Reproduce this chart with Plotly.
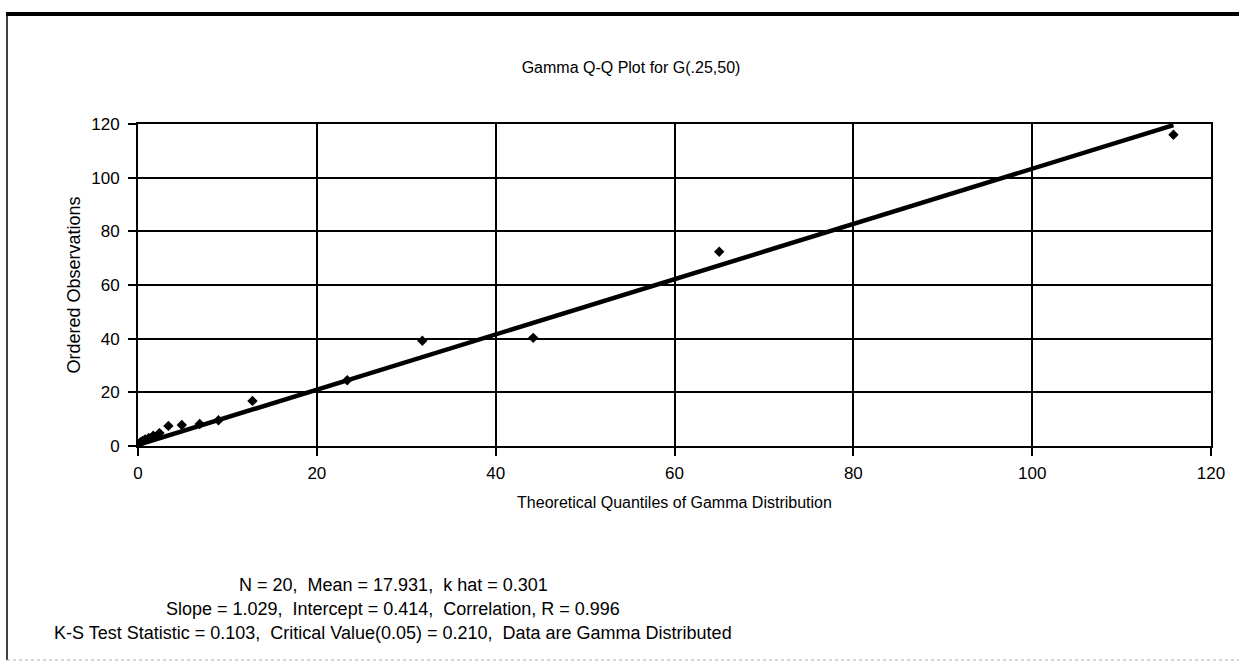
import plotly.graph_objects as go

# Data
theoretical_quantiles = [0.0, 0.01, 0.05, 0.15, 0.3, 0.5, 0.8, 1.2, 1.7, 2.4,
                         3.4, 4.9, 6.9, 9.0, 12.8, 23.4, 31.8, 44.2, 65.0, 115.8]
ordered_observations = [0.2, 0.4, 0.7, 1.0, 1.4, 1.9, 2.4, 3.0, 3.8, 4.8,
                        7.5, 7.8, 8.2, 9.6, 16.8, 24.5, 39.2, 40.3, 72.4, 116.0]
slope = 1.029
intercept = 0.414
tick_values = [0, 20, 40, 60, 80, 100, 120]
stats_lines = [
    "N = 20,  Mean = 17.931,  k hat = 0.301",
    "Slope = 1.029,  Intercept = 0.414,  Correlation, R = 0.996",
    "K-S Test Statistic = 0.103,  Critical Value(0.05) = 0.210,  Data are Gamma Distributed",
]

W, H = 1239, 666
L, R, T, B = 138, 1211, 124, 446

x_line = [min(theoretical_quantiles), max(theoretical_quantiles)]
y_line = [intercept + slope * v for v in x_line]

fig = go.Figure()
fig.add_trace(go.Scatter(x=x_line, y=y_line, mode="lines",
                         line=dict(color="black", width=4.5), showlegend=False,
                         hoverinfo="skip"))
fig.add_trace(go.Scatter(x=theoretical_quantiles, y=ordered_observations, mode="markers",
                         marker=dict(symbol="diamond", size=8, color="black"),
                         showlegend=False))

font_family = "Liberation Sans, Arial, sans-serif"
axis_common = dict(range=[0, 120], tickvals=tick_values, showgrid=True,
                   gridcolor="black", gridwidth=2, zeroline=False,
                   showline=True, linecolor="black", linewidth=2, mirror=True,
                   ticks="outside", ticklen=8, tickcolor="black", tickwidth=2,
                   tickfont=dict(family=font_family, size=17, color="black"))

fig.update_layout(
    width=W, height=H,
    margin=dict(l=L, r=W - R, t=T, b=H - B, pad=0),
    paper_bgcolor="white", plot_bgcolor="white",
    font=dict(family=font_family, color="black"),
    xaxis=dict(**axis_common, ticklabelstandoff=3,
               title=dict(text="Theoretical Quantiles of Gamma Distribution",
                          font=dict(size=16), standoff=14)),
    yaxis=dict(**axis_common, ticklabelstandoff=5,
               title=dict(text="Ordered Observations", font=dict(size=18), standoff=6)),
    title=dict(text="Gamma Q-Q Plot for G(.25,50)", x=631 / W, xanchor="center",
               y=1 - 67 / H, yanchor="middle", font=dict(size=16, color="black")),
)

def px_x(p):
    return (p - L) / (R - L)

def px_y(p):
    return (B - p) / (B - T)

for i, line in enumerate(stats_lines):
    fig.add_annotation(text=line, xref="paper", yref="paper",
                       x=px_x(393), y=px_y(585 + 24 * i), xanchor="center", yanchor="middle",
                       showarrow=False, font=dict(size=18, color="black", family=font_family))

# figure frame
fig.add_shape(type="line", xref="paper", yref="paper", x0=px_x(6), x1=px_x(1239),
              y0=px_y(14), y1=px_y(14), line=dict(color="black", width=4))
fig.add_shape(type="line", xref="paper", yref="paper", x0=px_x(7), x1=px_x(7),
              y0=px_y(14), y1=px_y(660), line=dict(color="black", width=1.5))
fig.add_shape(type="line", xref="paper", yref="paper", x0=px_x(7), x1=px_x(1239),
              y0=px_y(660), y1=px_y(660), line=dict(color="#aaaaaa", width=1, dash="dot"))

fig.write_html("out.html", post_script="document.body.style.margin='0';",
               config={"displayModeBar": False})
